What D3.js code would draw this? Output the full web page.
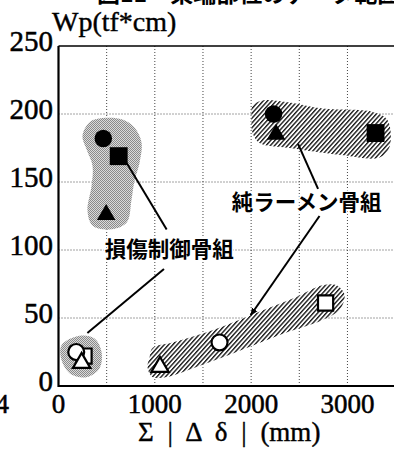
<!DOCTYPE html>
<html>
<head>
<meta charset="utf-8">
<script src="https://cdn.jsdelivr.net/npm/d3@7"></script>
<style>
  html, body { margin: 0; padding: 0; background: #fff; }
  svg { display: block; }
</style>
</head>
<body>
<svg id="chart" width="394" height="450"></svg>
<script>
// Axis ticks
const xTicks = [0, 1000, 2000, 3000];
const yTicks = [0, 50, 100, 150, 200, 250];
const xGrid = [500, 1000, 1500, 2000, 2500, 3000];
const yGrid = [50, 100, 150, 200];

// Damage-controlled frames (損傷制御骨組): [Σ|Δδ| (mm), Wp (tf*cm)]
const dcFilledCircle = [[465, 182]];
const dcFilledSquare = [[625, 169]];
const dcFilledTriangle = [[495, 126]];
const dcOpenCircle = [[184, 25]];
const dcOpenSquare = [[265, 22]];
const dcOpenTriangle = [[240, 17]];

// Pure moment frames (純ラーメン骨組)
const rfFilledCircle = [[2233, 200]];
const rfFilledTriangle = [[2259, 185]];
const rfFilledSquare = [[3292, 186]];
const rfOpenTriangle = [[1054, 14]];
const rfOpenCircle = [[1672, 32]];
const rfOpenSquare = [[2773, 61]];

// Outlines of the data ranges
const dcUpperRegion = [[457,197],[322,194],[249,184],[291,174],[353,162],[343,147],[301,129],[353,118],[530,115],[706,120],[758,137],[789,151],[841,164],[862,179],[789,190],[665,196]];
const dcLowerRegion = [[218,37],[31,30],[42,17],[145,8],[301,6.6],[426,13],[447,25],[374,35]];
const rfUpperRegion = [[2015,206],[2118,210],[2399,208.5],[2741,204],[3261,201.5],[3416,195.6],[3437,175.7],[3333,168],[2918,170],[2399,175],[2087,178.7],[2015,186],[2004,198]];
const rfLowerRegion = [[945,21],[976,28],[1184,32],[1599,41],[2056,53.7],[2471,65.4],[2741,74],[2887,74],[2970,67],[2918,56],[2741,48.5],[2295,37.5],[1848,25],[1433,14],[1121,6.6],[976,6.6],[924,14]];

// Leader lines and labels
const dcLabel = { text: "損傷制御骨組", pos: [480, 101] };
const rfLabel = { text: "純ラーメン骨組", pos: [1800, 135] };
const dcLeaders = [[[708, 164], [1123, 115]], [[1095, 86], [300, 39]]];
const rfLeaders = [[[2487, 178], [2695, 145]], [[2710, 125], [1995, 52]]];

const svg = d3.select("#chart");
const W = 394, H = 450;

const x = d3.scaleLinear().domain([0, 3500]).range([58.5, 395.6]);
const y = d3.scaleLinear().domain([0, 250]).range([386, 46]);

const serif = "'Liberation Serif', 'Times New Roman', serif";
const gothic = "'Noto Sans CJK JP', 'Noto Sans', sans-serif";

const defs = svg.append("defs");

// Stippled grey fill
const dots = defs.append("pattern").attr("id", "stipple")
  .attr("patternUnits", "userSpaceOnUse").attr("width", 2).attr("height", 2);
dots.append("rect").attr("width", 2).attr("height", 2).attr("fill", "#dadada");
dots.append("rect").attr("x", 0).attr("y", 0).attr("width", 1).attr("height", 1).attr("fill", "#8a8a8a");
dots.append("rect").attr("x", 1).attr("y", 1).attr("width", 1).attr("height", 1).attr("fill", "#8a8a8a");

// Diagonal hatching
const hatch = defs.append("pattern").attr("id", "hatch")
  .attr("patternUnits", "userSpaceOnUse").attr("width", 3.2).attr("height", 3.2)
  .attr("patternTransform", "rotate(42)");
hatch.append("rect").attr("width", 3.2).attr("height", 3.2).attr("fill", "#fff");
hatch.append("line").attr("x1", 0.7).attr("y1", 0).attr("x2", 0.7).attr("y2", 3.2)
  .attr("stroke", "#000").attr("stroke-width", 1.25);

defs.append("filter").attr("id", "soft")
  .append("feGaussianBlur").attr("stdDeviation", 0.6);

defs.append("marker").attr("id", "arrow")
  .attr("viewBox", "0 0 10 10").attr("refX", 9).attr("refY", 5)
  .attr("markerWidth", 4).attr("markerHeight", 4).attr("orient", "auto")
  .append("path").attr("d", "M0,1 L10,5 L0,9 z").attr("fill", "#000");

// Partially visible caption at the very top
svg.append("text")
  .attr("x", 97).attr("y", 2)
  .attr("font-family", gothic).attr("font-weight", "bold").attr("font-size", 23)
  .attr("fill", "#000")
  .text("図11　梁端部位のデータ範囲図");

// Grid
const grid = svg.append("g").attr("stroke", "#444").attr("stroke-width", 1)
  .attr("stroke-dasharray", "1,2");
grid.selectAll("line.gx").data(xGrid).join("line").attr("class", "gx")
  .attr("x1", d => x(d)).attr("x2", d => x(d))
  .attr("y1", y(0)).attr("y2", y(250));
grid.selectAll("line.gy").data(yGrid).join("line").attr("class", "gy")
  .attr("y1", d => y(d)).attr("y2", d => y(d))
  .attr("x1", x(0)).attr("x2", W);

// Ranges
const outline = d3.line().x(d => x(d[0])).y(d => y(d[1]))
  .curve(d3.curveCatmullRomClosed.alpha(0.5));
[dcUpperRegion, dcLowerRegion].forEach(r => {
  svg.append("path").attr("d", outline(r)).attr("fill", "url(#stipple)")
    .attr("filter", "url(#soft)");
});
[rfUpperRegion, rfLowerRegion].forEach(r => {
  svg.append("path").attr("d", outline(r)).attr("fill", "url(#hatch)");
});

// Axes frame
svg.append("line").attr("x1", x(0)).attr("x2", W).attr("y1", y(250)).attr("y2", y(250))
  .attr("stroke", "#000").attr("stroke-width", 1.6);
svg.append("line").attr("x1", x(0)).attr("x2", W).attr("y1", y(0)).attr("y2", y(0))
  .attr("stroke", "#000").attr("stroke-width", 2.2);
svg.append("line").attr("x1", x(0)).attr("x2", x(0)).attr("y1", y(250)).attr("y2", y(0) + 1)
  .attr("stroke", "#000").attr("stroke-width", 2.2);

// Tick labels
svg.selectAll("text.yt").data(yTicks).join("text").attr("class", "yt")
  .attr("x", 53).attr("y", d => y(d) + 5)
  .attr("text-anchor", "end")
  .attr("font-family", serif).attr("font-size", 29).attr("fill", "#000")
  .attr("stroke", "#000").attr("stroke-width", 0.5)
  .text(d => d);
svg.selectAll("text.xt").data(xTicks).join("text").attr("class", "xt")
  .attr("x", d => x(d)).attr("y", 413)
  .attr("text-anchor", "middle")
  .attr("font-family", serif).attr("font-size", 27).attr("fill", "#000")
  .attr("stroke", "#000").attr("stroke-width", 0.5)
  .text(d => d);
svg.append("text").attr("x", 9).attr("y", 413).attr("text-anchor", "end")
  .attr("font-family", serif).attr("font-size", 27).attr("fill", "#000")
  .attr("stroke", "#000").attr("stroke-width", 0.5).text("4");

// Axis titles
svg.append("text").attr("x", 52).attr("y", 31)
  .attr("font-family", serif).attr("font-size", 28).attr("fill", "#000")
  .attr("stroke", "#000").attr("stroke-width", 0.4)
  .text("Wp(tf*cm)");
svg.append("text").attr("x", 138).attr("y", 441)
  .attr("font-family", serif).attr("font-size", 27).attr("fill", "#000")
  .attr("stroke", "#000").attr("stroke-width", 0.4)
  .attr("word-spacing", 7)
  .text("Σ | Δ δ | (mm)");

// Leader lines
const seg = d3.line().x(d => x(d[0])).y(d => y(d[1]));
dcLeaders.concat([rfLeaders[0]]).forEach(l => {
  svg.append("path").attr("d", seg(l)).attr("stroke", "#000").attr("stroke-width", 2).attr("fill", "none");
});
svg.append("path").attr("d", seg(rfLeaders[1])).attr("stroke", "#000").attr("stroke-width", 2)
  .attr("fill", "none").attr("marker-end", "url(#arrow)");

// Markers
const sym = (type, size) => d3.symbol().type(type).size(size)();
function draw(data, type, size, filled) {
  svg.selectAll(null).data(data).join("path")
    .attr("transform", d => `translate(${x(d[0])},${y(d[1])})`)
    .attr("d", sym(type, size))
    .attr("fill", filled ? "#000" : "#fff")
    .attr("stroke", "#000").attr("stroke-width", filled ? 0 : 2.2);
}
draw(dcFilledSquare, d3.symbolSquare, 320, true);
draw(dcFilledCircle, d3.symbolCircle, 240, true);
draw(dcFilledTriangle, d3.symbolTriangle, 150, true);
draw(dcOpenSquare, d3.symbolSquare, 230, false);
draw(dcOpenCircle, d3.symbolCircle, 200, false);
draw(dcOpenTriangle, d3.symbolTriangle, 130, false);
draw(rfFilledCircle, d3.symbolCircle, 240, true);
draw(rfFilledTriangle, d3.symbolTriangle, 150, true);
draw(rfFilledSquare, d3.symbolSquare, 320, true);
draw(rfOpenTriangle, d3.symbolTriangle, 130, false);
draw(rfOpenCircle, d3.symbolCircle, 200, false);
draw(rfOpenSquare, d3.symbolSquare, 230, false);

// Group labels
[dcLabel, rfLabel].forEach(l => {
  svg.append("text").attr("x", x(l.pos[0])).attr("y", y(l.pos[1]) + 8)
    .attr("font-family", gothic).attr("font-weight", "bold").attr("font-size", 21.5)
    .attr("fill", "#000").attr("stroke", "#fff").attr("stroke-width", 3)
    .attr("paint-order", "stroke")
    .text(l.text);
});
</script>
</body>
</html>
